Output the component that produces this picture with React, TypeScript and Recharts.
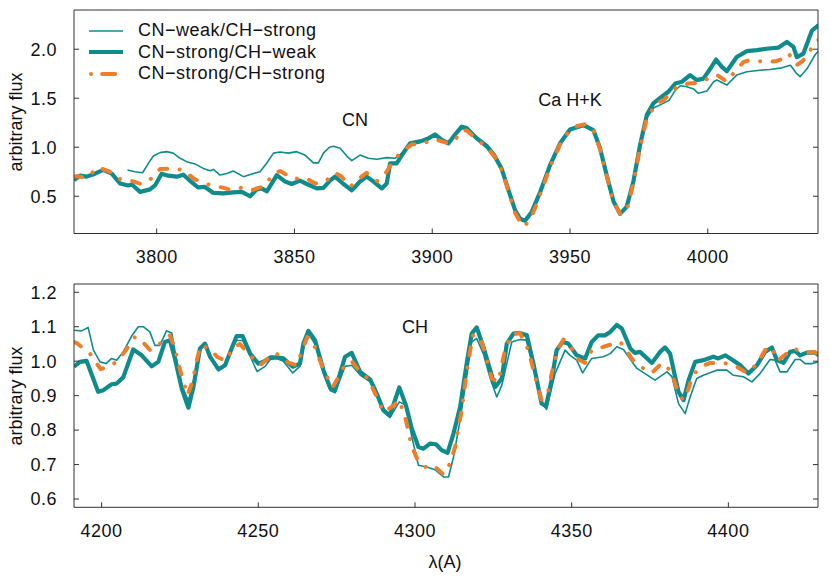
import { LineChart, Line, XAxis, YAxis, ReferenceDot } from 'recharts'

const TEAL = '#108b8c'
const ORANGE = '#f07d2a'
const AXIS = '#333333'
const FONT = '"Liberation Sans", Arial, Helvetica, sans-serif'

type Pt = [number, number]

// upper panel, CN / Ca H+K region
const topWeakStrong: Pt[] = [
  [3789.4, 0.767], [3792.1, 0.75], [3794.9, 0.74], [3797, 0.835], [3798.8, 0.91], [3801.2, 0.945],
  [3803.6, 0.955], [3806, 0.94], [3808.5, 0.887], [3810.9, 0.853], [3813.9, 0.83], [3816.9, 0.784],
  [3819.4, 0.76], [3820.6, 0.774], [3823, 0.716], [3825.4, 0.733], [3827.8, 0.757], [3831.5, 0.7],
  [3834.5, 0.726], [3837.5, 0.75], [3839.9, 0.836], [3842.4, 0.94], [3844.8, 0.952], [3847.8, 0.94],
  [3850.8, 0.955], [3853.8, 0.92], [3856.9, 0.84], [3858.7, 0.84], [3860.5, 0.94], [3862.7, 1.0],
  [3864.1, 1.01], [3866.6, 0.99], [3869, 0.91], [3870.8, 0.863], [3873.8, 0.92], [3876.8, 0.887],
  [3879.9, 0.877], [3883.5, 0.894], [3886.5, 0.887], [3889, 0.94], [3892, 1.04], [3895.6, 1.05],
  [3898.6, 1.08], [3901, 1.12], [3903.5, 1.08], [3905.9, 1.05], [3908.3, 1.12], [3910.7, 1.19],
  [3912.5, 1.19], [3916.2, 1.1], [3919.8, 1.03], [3922.8, 0.93], [3925.2, 0.8], [3927.7, 0.57],
  [3930.1, 0.36], [3931.9, 0.27], [3933.7, 0.25], [3936.1, 0.34], [3939.2, 0.55], [3942.8, 0.83],
  [3946.4, 1.04], [3950, 1.18], [3953.1, 1.2], [3954.9, 1.215], [3958.5, 1.17], [3960.9, 0.99],
  [3963.3, 0.72], [3965.8, 0.45], [3968.2, 0.32], [3970.6, 0.39], [3973, 0.64], [3975.4, 1.0],
  [3977.9, 1.3], [3980.3, 1.4], [3983.3, 1.44], [3986, 1.48], [3988.2, 1.58], [3990, 1.627],
  [3992.4, 1.617], [3994.9, 1.593], [3996.6, 1.55], [3999.7, 1.573], [4002.1, 1.668], [4003.3, 1.685],
  [4006.9, 1.634], [4010.5, 1.736], [4014.2, 1.77], [4019, 1.786], [4022.6, 1.793], [4026.9, 1.81],
  [4030, 1.837], [4032.3, 1.75], [4033.5, 1.72], [4036, 1.8], [4039, 1.946], [4040.2, 1.98],
]

const topStrongWeak: Pt[] = [
  [3770, 0.664], [3772.2, 0.71], [3774.6, 0.7], [3777.6, 0.73], [3780.6, 0.77], [3783.7, 0.73],
  [3786.7, 0.63], [3789.7, 0.61], [3791, 0.62], [3794, 0.545], [3797.6, 0.57], [3799.4, 0.61],
  [3801.8, 0.73], [3804.2, 0.71], [3807.3, 0.7], [3809.7, 0.72], [3812, 0.66], [3815, 0.59],
  [3817.5, 0.595], [3820.5, 0.535], [3824.2, 0.53], [3827.8, 0.54], [3830.9, 0.545], [3833.9, 0.5],
  [3836.3, 0.57], [3838.1, 0.58], [3840, 0.55], [3843.6, 0.715], [3846.6, 0.65], [3849, 0.625],
  [3852, 0.66], [3854.5, 0.625], [3858.1, 0.58], [3860.5, 0.585], [3862.9, 0.66], [3864.7, 0.7],
  [3867.8, 0.625], [3870.8, 0.56], [3873.8, 0.65], [3876.2, 0.7], [3878.7, 0.65], [3881.7, 0.58],
  [3883.5, 0.63], [3884.7, 0.835], [3887.1, 0.835], [3889, 0.92], [3892, 1.04], [3895.6, 1.06],
  [3898.6, 1.09], [3901, 1.13], [3903.5, 1.075], [3905.9, 1.04], [3908.3, 1.13], [3910.7, 1.21],
  [3912.5, 1.195], [3916.2, 1.09], [3919.8, 1.01], [3922.8, 0.9], [3925.2, 0.78], [3927.7, 0.56],
  [3930.1, 0.356], [3931.9, 0.27], [3933.7, 0.25], [3936.1, 0.34], [3939.2, 0.545], [3942.8, 0.82],
  [3946.4, 1.04], [3950, 1.18], [3953.1, 1.21], [3954.9, 1.226], [3958.5, 1.175], [3960.9, 0.99],
  [3963.3, 0.717], [3965.8, 0.446], [3968.2, 0.32], [3970.6, 0.395], [3973, 0.65], [3975.4, 1.02],
  [3977.9, 1.33], [3980.3, 1.45], [3983.3, 1.515], [3985.7, 1.566], [3988.2, 1.65], [3990.6, 1.668],
  [3993.6, 1.735], [3996, 1.685], [3998.4, 1.7], [4000.9, 1.8], [4003, 1.895], [4005.1, 1.82],
  [4006.9, 1.776], [4010.5, 1.92], [4014.2, 1.98], [4017.8, 1.99], [4022, 2.007], [4025.7, 2.017],
  [4028.7, 2.075], [4031.1, 2.024], [4032.3, 1.92], [4034.7, 1.956], [4037.8, 2.19], [4040.2, 2.245],
]

const topStrongStrong: Pt[] = [
  [3770, 0.7], [3771, 0.705], [3774.6, 0.69], [3778.8, 0.795], [3783, 0.75], [3785.5, 0.68],
  [3790, 0.664], [3794.6, 0.623], [3797.6, 0.67], [3801.2, 0.777], [3806, 0.784], [3809.7, 0.767],
  [3813.7, 0.675], [3818.2, 0.623], [3821.8, 0.603], [3826.6, 0.568], [3831.5, 0.59], [3834.5, 0.562],
  [3839.1, 0.603], [3842.4, 0.733], [3844.8, 0.757], [3849.6, 0.68], [3854.5, 0.68], [3857.5, 0.63],
  [3861.1, 0.647], [3864.7, 0.74], [3867.2, 0.7], [3870.2, 0.596], [3873.8, 0.688], [3876.2, 0.74],
  [3880.1, 0.654], [3883.5, 0.75], [3885.3, 0.836], [3888.3, 0.94], [3892.6, 1.03], [3895.6, 1.03],
  [3901, 1.08], [3905.9, 1.04], [3908.3, 1.075], [3910.7, 1.17], [3912.5, 1.17], [3916.2, 1.08],
  [3919.8, 1.0], [3922.8, 0.9], [3925.2, 0.77], [3927.7, 0.55], [3930.1, 0.33], [3931.9, 0.24],
  [3933.3, 0.19], [3935.5, 0.26], [3937.3, 0.38], [3939.6, 0.55], [3942.8, 0.8], [3946.4, 1.03],
  [3950, 1.18], [3953, 1.22], [3955.5, 1.235], [3958.5, 1.18], [3960.9, 0.98], [3963.3, 0.71],
  [3965.8, 0.44], [3968.5, 0.31], [3970.8, 0.38], [3973, 0.63], [3975.4, 1.0], [3977.9, 1.3],
  [3981.5, 1.45], [3983.9, 1.48], [3988.8, 1.617], [3993, 1.65], [3996.6, 1.657], [4000.9, 1.71],
  [4003.3, 1.74], [4006.9, 1.668], [4010, 1.78], [4013, 1.87], [4015.4, 1.89], [4017.8, 1.88],
  [4022.6, 1.87], [4025, 1.88], [4027.5, 1.905], [4029.3, 1.956], [4032.3, 1.84], [4034.5, 1.88],
  [4036, 1.94], [4037.2, 1.99], [4039.3, 2.08], [4040.5, 2.1],
]

// lower panel, CH G band region
const botWeakStrong: Pt[] = [
  [4191.2, 1.09], [4193.6, 1.088], [4195.7, 1.098], [4197.4, 1.032], [4199.5, 0.998], [4201.4, 0.993],
  [4203.2, 1.008], [4204.8, 1.003], [4206.9, 1.027], [4209.6, 1.073], [4211.7, 1.1], [4213.3, 1.1],
  [4215.4, 1.085], [4217, 1.046], [4218.6, 1.046], [4220.7, 1.088], [4222.4, 1.082], [4223.6, 1.02],
  [4225.6, 0.93], [4227.7, 0.885], [4229.3, 0.94], [4231.4, 1.04], [4233, 1.05], [4234.6, 1.013],
  [4237.3, 0.98], [4239.4, 0.99], [4241.5, 1.035], [4243.1, 1.06], [4245, 1.06], [4247.4, 1.015],
  [4249.6, 0.97], [4252.2, 0.985], [4253.8, 1.005], [4255.9, 1.008], [4258, 1.0], [4261, 0.966],
  [4263.3, 0.985], [4264.4, 1.04], [4266, 1.08], [4268.1, 1.05], [4270.8, 0.965], [4272.9, 0.915],
  [4274.5, 0.908], [4277.7, 0.985], [4279.8, 0.988], [4282.5, 0.96], [4285.7, 0.94], [4287.8, 0.9],
  [4289.9, 0.853], [4292, 0.836], [4295, 0.882], [4297.1, 0.872], [4299, 0.78], [4301.1, 0.698],
  [4303.7, 0.693], [4306.4, 0.685], [4309.1, 0.664], [4310.7, 0.664], [4312.3, 0.722], [4314.4, 0.829],
  [4316.5, 0.955], [4318.1, 1.056], [4319.7, 1.066], [4321.8, 1.022], [4324, 0.95], [4326.1, 0.896],
  [4327.7, 0.93], [4330.9, 1.056], [4333.5, 1.063], [4335.5, 1.061], [4337.8, 0.979], [4340.4, 0.88],
  [4342, 0.86], [4344.7, 0.964], [4347.9, 1.032], [4349.5, 1.017], [4351.6, 1.003], [4353.5, 0.966],
  [4356.4, 1.008], [4360.1, 1.013], [4362.3, 1.022], [4364.4, 1.042], [4366.5, 1.034], [4370.8, 0.979],
  [4373.4, 0.964], [4376.6, 0.945], [4380.4, 0.969], [4382, 0.955], [4384.1, 0.877], [4386.2, 0.848],
  [4387.8, 0.896], [4389.9, 0.95], [4392, 0.959], [4396.3, 0.974], [4399.5, 0.974], [4401.6, 0.959],
  [4404.8, 0.955], [4407.5, 0.94], [4410.1, 0.964], [4413.3, 1.005], [4414.9, 1.003], [4416.5, 0.969],
  [4418.7, 0.969], [4421.3, 1.005], [4422.9, 1.005], [4424.5, 0.993], [4426.6, 0.993], [4428.8, 0.998],
]

const botStrongWeak: Pt[] = [
  [4191.2, 0.984], [4193.1, 0.998], [4195.2, 1.001], [4198.9, 0.911], [4200.6, 0.916], [4203.2, 0.933],
  [4204.8, 0.935], [4206.9, 0.953], [4210.1, 1.034], [4212.8, 1.017], [4216, 0.985], [4218.1, 0.998],
  [4220.2, 1.056], [4221.8, 1.061], [4223.4, 1.008], [4225.6, 0.92], [4227.7, 0.865], [4229.3, 0.925],
  [4231.4, 1.037], [4233, 1.051], [4234.6, 1.013], [4237.3, 0.976], [4239.4, 0.988], [4241.5, 1.037],
  [4243.1, 1.073], [4245, 1.073], [4247.4, 1.022], [4250, 0.993], [4252.2, 1.001], [4253.8, 1.011],
  [4255.9, 1.011], [4258, 1.008], [4261, 0.984], [4263.3, 0.993], [4264.4, 1.051], [4266, 1.088],
  [4268.1, 1.061], [4270.8, 0.974], [4272.9, 0.924], [4274.5, 0.916], [4277.7, 1.013], [4279.8, 1.024],
  [4282.5, 0.969], [4285.7, 0.947], [4287.8, 0.906], [4289.9, 0.858], [4292, 0.843], [4295, 0.924],
  [4297.1, 0.872], [4299, 0.804], [4301.1, 0.751], [4302.7, 0.746], [4304.8, 0.761], [4306.7, 0.759],
  [4308.5, 0.742], [4310.4, 0.734], [4312.3, 0.79], [4314.4, 0.867], [4316.5, 0.993], [4318.1, 1.08],
  [4319.7, 1.098], [4321.8, 1.042], [4324, 0.974], [4325.6, 0.925], [4327.7, 0.95], [4329.3, 1.051],
  [4331.4, 1.08], [4333.5, 1.082], [4335.7, 1.075], [4337.8, 0.993], [4340.4, 0.877], [4341.8, 0.869],
  [4343.6, 0.945], [4345.2, 1.032], [4347.1, 1.056], [4348.9, 1.051], [4351.6, 1.017], [4354.3, 1.008],
  [4356.4, 1.056], [4358.5, 1.075], [4360.7, 1.075], [4362.3, 1.085], [4364.4, 1.105], [4366, 1.095],
  [4368.7, 1.037], [4370.2, 1.024], [4371.8, 1.027], [4375.6, 0.995], [4378.2, 1.027], [4379.8, 1.04],
  [4381.4, 1.022], [4383, 0.955], [4384.1, 0.911], [4385.7, 0.887], [4387.3, 0.945], [4389.4, 0.998],
  [4392, 1.003], [4395.2, 1.013], [4396.8, 1.008], [4399, 1.017], [4401.1, 1.005], [4403.8, 0.988],
  [4406.4, 0.964], [4409.1, 0.988], [4411.7, 1.027], [4413.9, 1.04], [4415.5, 1.003], [4417.6, 0.995],
  [4419.7, 1.027], [4421.3, 1.03], [4422.9, 1.017], [4425, 1.025], [4427.7, 1.025], [4428.8, 1.017],
]

const botStrongStrong: Pt[] = [
  [4191.2, 1.055], [4192, 1.053], [4196.3, 1.022], [4199.7, 0.977], [4203.2, 0.988], [4205.3, 1.003],
  [4207.9, 1.034], [4210.7, 1.071], [4212.8, 1.059], [4215.5, 1.032], [4218.6, 1.051], [4221.8, 1.075],
  [4223.4, 1.037], [4225.2, 0.969], [4227.4, 0.901], [4229, 0.94], [4230.4, 1.003], [4231.6, 1.046],
  [4234.6, 1.037], [4236.8, 1.013], [4239.6, 1.001], [4242.1, 1.04], [4244.1, 1.05], [4247.4, 1.017],
  [4250.5, 0.988], [4252.7, 1.005], [4255.6, 1.024], [4259, 0.998], [4262.3, 0.988], [4263.7, 1.024],
  [4265.6, 1.07], [4267.2, 1.061], [4270.8, 0.976], [4273.7, 0.924], [4276.6, 0.969], [4277.7, 0.993],
  [4280, 0.998], [4283, 0.964], [4285.1, 0.95], [4287.8, 0.896], [4289.9, 0.853], [4292.6, 0.867],
  [4295, 0.887], [4297.1, 0.829], [4298.4, 0.775], [4299.5, 0.742], [4301.1, 0.708], [4303.2, 0.693],
  [4305.9, 0.698], [4309.1, 0.671], [4311.2, 0.703], [4312.8, 0.751], [4314.9, 0.858], [4316.5, 0.969],
  [4318.4, 1.075], [4320.8, 1.071], [4322.4, 1.022], [4324.5, 0.95], [4326.6, 0.94], [4328.7, 1.032],
  [4330.9, 1.078], [4333.5, 1.082], [4336.2, 1.032], [4337.8, 0.974], [4340.4, 0.887], [4342.6, 0.916],
  [4343.6, 0.964], [4345.4, 1.032], [4347.4, 1.063], [4350, 1.037], [4351.6, 1.008], [4354.3, 0.995],
  [4356.4, 1.032], [4358.5, 1.037], [4362.3, 1.048], [4365.5, 1.056], [4367.1, 1.037], [4369.5, 1.003],
  [4372.9, 0.979], [4375.6, 0.966], [4378.8, 0.995], [4381.4, 0.974], [4382.5, 0.95], [4383.8, 0.913],
  [4385.5, 0.887], [4387.3, 0.92], [4388.5, 0.959], [4391.5, 0.985], [4394.2, 0.995], [4398.6, 0.995],
  [4402.7, 0.984], [4405.9, 0.966], [4409.1, 0.991], [4411.7, 1.032], [4413.9, 1.042], [4415.7, 1.001],
  [4419.2, 1.027], [4420.6, 1.037], [4424.5, 1.025], [4427.2, 1.027], [4428.8, 1.02],
]

const topTicksX = [3800, 3850, 3900, 3950, 4000]
const topTicksY = [0.5, 1.0, 1.5, 2.0]
const botTicksX = [4200, 4250, 4300, 4350, 4400]
const botTicksY = [0.6, 0.7, 0.8, 0.9, 1.0, 1.1, 1.2]

const topDomainX: [number, number] = [3770, 4040]
const topDomainY: [number, number] = [0.12, 2.4]
const botDomainX: [number, number] = [4191.2, 4428.6]
const botDomainY: [number, number] = [0.576, 1.224]

const seriesNames = ['CN\u2212weak/CH\u2212strong', 'CN\u2212strong/CH\u2212weak', 'CN\u2212strong/CH\u2212strong']

const styles = [
  { stroke: TEAL, width: 1.6, dash: undefined as string | undefined },
  { stroke: TEAL, width: 4.2, dash: undefined as string | undefined },
  { stroke: ORANGE, width: 4, dash: '8 12.5 0.1 12.5' },
]

const toRows = (pts: Pt[]) => pts.map(([x, y]) => ({ x, y }))

const tickStyle = { fontSize: 18, fill: '#111', fontFamily: FONT, letterSpacing: 0.5 }

interface Note {
  x: number
  y: number
  text: string
}

interface PanelProps {
  top: number
  height: number
  margin: { top: number; right: number; bottom: number; left: number }
  domX: [number, number]
  domY: [number, number]
  ticksX: number[]
  ticksY: number[]
  series: Pt[][]
  notes: Note[]
}

function Panel({ top, height, margin, domX, domY, ticksX, ticksY, series, notes }: PanelProps) {
  return (
    <div style={{ position: 'absolute', left: 0, top }}>
      <LineChart width={831} height={height} margin={margin}>
        <XAxis
          dataKey="x"
          type="number"
          domain={domX}
          ticks={ticksX}
          allowDataOverflow
          interval={0}
          height={30}
          tickSize={-5}
          tickMargin={22}
          stroke={AXIS}
          tick={tickStyle}
        />
        <XAxis
          xAxisId="t"
          orientation="top"
          type="number"
          domain={domX}
          ticks={ticksX}
          allowDataOverflow
          interval={0}
          height={1}
          tickSize={-5}
          stroke={AXIS}
          tickFormatter={() => ''}
        />
        <YAxis
          type="number"
          domain={domY}
          ticks={ticksY}
          allowDataOverflow
          interval={0}
          width={60}
          tickSize={-5}
          tickMargin={22}
          stroke={AXIS}
          tick={tickStyle}
          tickFormatter={(v: number) => v.toFixed(1)}
        />
        <YAxis
          yAxisId="r"
          orientation="right"
          type="number"
          domain={domY}
          ticks={ticksY}
          allowDataOverflow
          interval={0}
          width={1}
          tickSize={-5}
          stroke={AXIS}
          tickFormatter={() => ''}
        />
        {series.map((pts, i) => (
          <Line
            key={seriesNames[i]}
            name={seriesNames[i]}
            data={toRows(pts)}
            dataKey="y"
            type="linear"
            dot={false}
            activeDot={false}
            stroke={styles[i].stroke}
            strokeWidth={styles[i].width}
            strokeDasharray={styles[i].dash}
            strokeLinecap={styles[i].dash ? 'round' : 'butt'}
            strokeLinejoin="round"
            isAnimationActive={false}
          />
        ))}
        {notes.map(n => (
          <ReferenceDot
            key={n.text}
            x={n.x}
            y={n.y}
            r={0}
            stroke="none"
            label={{ value: n.text, position: 'center', fill: '#111', fontSize: 18, fontFamily: FONT }}
          />
        ))}
      </LineChart>
    </div>
  )
}

function Legend() {
  return (
    <div style={{ position: 'absolute', left: 89, top: 20 }}>
      {seriesNames.map((name, i) => (
        <div key={name} style={{ display: 'flex', alignItems: 'center', height: 21.5 }}>
          <svg width={34} height={10} style={{ overflow: 'visible' }}>
            <line
              x1={styles[i].dash ? 2 : 0}
              x2={34}
              y1={5}
              y2={5}
              stroke={styles[i].stroke}
              strokeWidth={styles[i].width}
              strokeDasharray={styles[i].dash ? '0.1 11 13 20' : undefined}
              strokeLinecap={styles[i].dash ? 'round' : 'butt'}
            />
          </svg>
          <span style={{ marginLeft: 15, fontSize: 18, letterSpacing: 0.5, color: '#111', whiteSpace: 'nowrap' }}>
            {name}
          </span>
        </div>
      ))}
    </div>
  )
}

const axisTitle = { position: 'absolute' as const, fontSize: 18, color: '#111', whiteSpace: 'nowrap' as const }

export default function App() {
  return (
    <div
      style={{
        position: 'absolute',
        left: 0,
        top: 0,
        width: 831,
        height: 580,
        background: '#fff',
        fontFamily: FONT,
        overflow: 'hidden',
      }}
    >
      <Panel
        top={0}
        height={270}
        margin={{ top: 9, right: 12, bottom: 6.5, left: 14 }}
        domX={topDomainX}
        domY={topDomainY}
        ticksX={topTicksX}
        ticksY={topTicksY}
        series={[topWeakStrong, topStrongWeak, topStrongStrong]}
        notes={[
          { x: 3872, y: 1.285, text: 'CN' },
          { x: 3950, y: 1.484, text: 'Ca H+K' },
        ]}
      />
      <Panel
        top={270}
        height={310}
        margin={{ top: 13, right: 12, bottom: 42.7, left: 14 }}
        domX={botDomainX}
        domY={botDomainY}
        ticksX={botTicksX}
        ticksY={botTicksY}
        series={[botWeakStrong, botStrongWeak, botStrongStrong]}
        notes={[{ x: 4300, y: 1.1, text: 'CH' }]}
      />
      <Legend />
      <div style={{ ...axisTitle, left: 16, top: 122, transform: 'translate(-50%, -50%) rotate(-90deg)' }}>
        arbitrary flux
      </div>
      <div style={{ ...axisTitle, left: 16, top: 395.5, transform: 'translate(-50%, -50%) rotate(-90deg)' }}>
        arbitrary flux
      </div>
      <div style={{ ...axisTitle, left: 445, top: 561.5, transform: 'translate(-50%, -50%)' }}>λ(A)</div>
    </div>
  )
}
